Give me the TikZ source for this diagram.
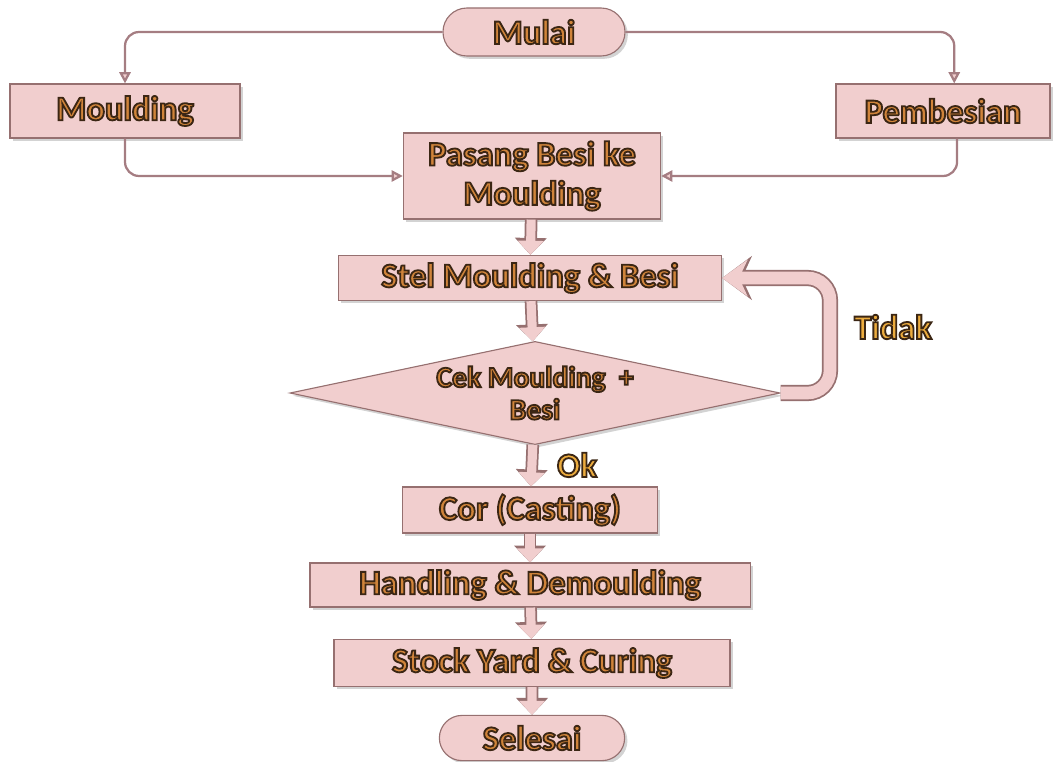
\documentclass[tikz,border=0pt]{standalone}
\usepackage{fontspec}
\setmainfont{Carlito}
\usetikzlibrary{calc, positioning, arrows.meta, shadows, shapes.geometric, shapes.misc}

\definecolor{boxfill}{RGB}{241,206,206}
\definecolor{boxedge}{RGB}{150,112,112}
\definecolor{lineclr}{RGB}{165,125,130}
\definecolor{textfill}{RGB}{208,132,58}
\definecolor{labelfill}{RGB}{236,172,62}
% outlined text: fill with the colour, stroke dark brown
\newcommand{\outl}[2]{\textcolor{#1}{\special{pdf:literal direct 0.23 0.15 0.08 RG 1.3 w 2 Tr}#2\special{pdf:literal direct 0 Tr}}}
\newcommand{\lbl}[1]{\outl{textfill}{#1}}
\newcommand{\ylbl}[1]{\outl{labelfill}{#1}}

\begin{document}
\begin{tikzpicture}[x=0.025cm, y=-0.025cm,
  box/.style={rectangle, draw=boxedge, fill=boxfill, line width=0.8pt,
    font=\fontsize{24.5}{29}\selectfont\bfseries, align=center, inner sep=0pt,
    drop shadow={opacity=0.35, shadow xshift=2pt, shadow yshift=-2pt}},
  pill/.style={box, rounded rectangle},
  decision/.style={box, diamond, aspect=4.75},
  tag/.style={font=\fontsize{24.5}{29}\selectfont\bfseries, inner sep=0pt},
  thinarrow/.style={draw=lineclr, line width=1.6pt, rounded corners=10pt,
    -{Triangle[width=8pt, length=8pt, fill=boxfill]}},
  blockarrow/.style={draw=boxfill, line width=6.5pt, -{Triangle[width=18pt, length=10pt]},
    preaction={draw=boxedge, line width=9pt, -{Triangle[width=22pt, length=12pt]}}},
  looparrow/.style={draw=boxfill, line width=9pt, rounded corners=16pt,
    -{Stealth[width=26pt, length=18pt, inset=6pt]},
    preaction={draw=boxedge, line width=11.5pt, rounded corners=16pt,
      -{Stealth[width=31pt, length=21pt, inset=7pt]}}}]

  \useasboundingbox (0,0) rectangle (1058,762);

  % Start and the two preparation steps
  \node[pill, minimum width=4.55cm, minimum height=1.2cm] (mulai) at (534,32) {\lbl{Mulai}};
  \node[box, minimum width=5.75cm, minimum height=1.35cm] (moulding) at (125,111) {\lbl{Moulding}};
  \node[box, minimum width=5.35cm, minimum height=1.35cm] (pembesian) at (943,111) {\lbl{Pembesian}};

  % Main column
  \node[box, minimum width=6.43cm, minimum height=2.15cm] (pasang) at (532,176)
    {\lbl{Pasang Besi ke}\\[-1pt]\lbl{Moulding}};
  \node[box, minimum width=9.58cm, minimum height=1.13cm] (stel) at (530,278) {\lbl{Stel Moulding \& Besi}};
  \node[decision, minimum width=12.25cm, minimum height=2.58cm,
    font=\fontsize{21}{23}\selectfont\bfseries] (check) at (535,393)
    {\lbl{Cek Moulding\ \ +}\\\lbl{Besi}};
  \node[box, minimum width=6.38cm, minimum height=1.15cm] (cor) at (530,510) {\lbl{Cor (Casting)}};
  \node[box, minimum width=11cm, minimum height=1.1cm] (handling) at (530,585) {\lbl{Handling \& Demoulding}};
  \node[box, minimum width=9.9cm, minimum height=1.18cm] (stock) at (532,663) {\lbl{Stock Yard \& Curing}};
  \node[pill, minimum width=4.63cm, minimum height=1.13cm] (selesai) at (532,738) {\lbl{Selesai}};

  % Labels
  \node[tag] (ok) at (577,465) {\ylbl{Ok}};
  \node[tag] (tidak) at (893,327) {\ylbl{Tidak}};
  \coordinate (loopturn) at (830,330);

  % Thin connectors
  \draw[thinarrow] (mulai.west) -| (moulding.north);
  \draw[thinarrow] (mulai.east) -| ([xshift=8]pembesian.north);
  \draw[thinarrow] (moulding.south) |- (pasang.west);
  \draw[thinarrow] ([xshift=10]pembesian.south) |- (pasang.east);

  % Block arrows
  \foreach \a/\b in {pasang/stel, stel/check, check/cor, cor/handling, handling/stock, stock/selesai}
    \draw[blockarrow] (\a) -- (\b);

  % Back to adjustment
  \draw[looparrow] (check.east) -| (loopturn) |- (stel.east);
\end{tikzpicture}
\end{document}
